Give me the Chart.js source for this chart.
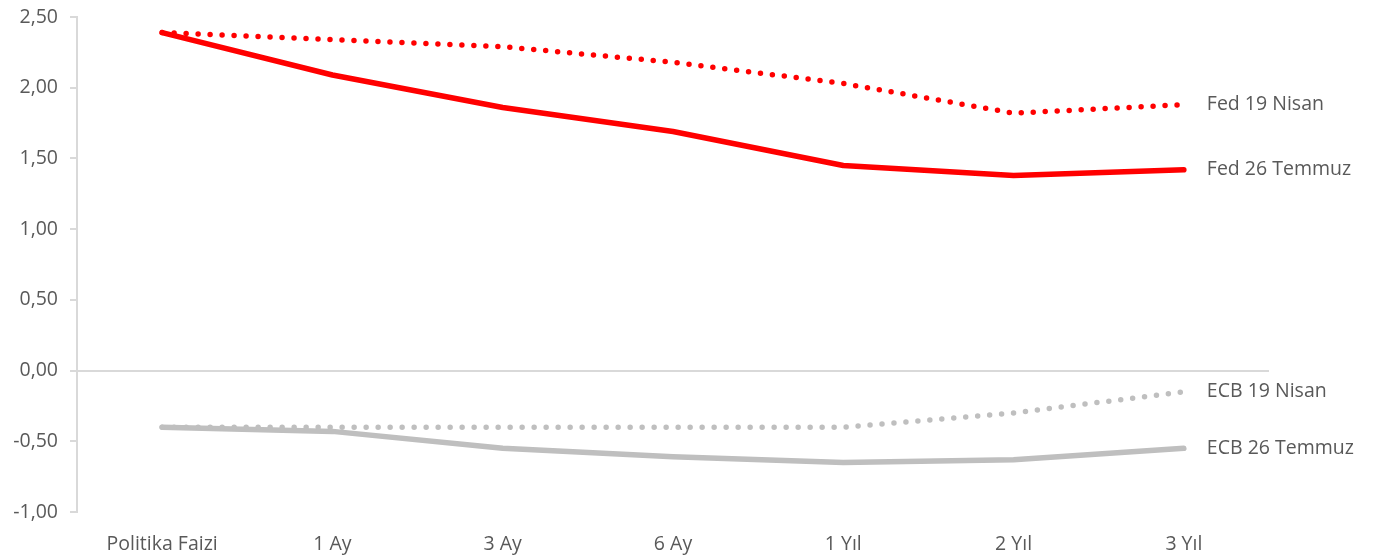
<!DOCTYPE html>
<html>
<head>
<meta charset="utf-8">
<script src="https://cdn.jsdelivr.net/npm/chart.js@4/dist/chart.umd.min.js"></script>
<style>
  html, body { margin: 0; padding: 0; background: #fff; }
  #wrap { width: 1375px; height: 557px; position: relative; }
</style>
</head>
<body>
<div id="wrap"><canvas id="chart"></canvas></div>
<script>
// categories and series
const categories = ["Politika Faizi", "1 Ay", "3 Ay", "6 Ay", "1 Yıl", "2 Yıl", "3 Yıl"];
const fedApril = [2.39, 2.34, 2.29, 2.18, 2.03, 1.82, 1.88];
const fedJuly = [2.39, 2.09, 1.86, 1.69, 1.45, 1.38, 1.42];
const ecbApril = [-0.40, -0.40, -0.40, -0.40, -0.40, -0.30, -0.15];
const ecbJuly = [-0.40, -0.43, -0.55, -0.61, -0.65, -0.63, -0.55];
const seriesNames = ["Fed 19 Nisan", "Fed 26 Temmuz", "ECB 19 Nisan", "ECB 26 Temmuz"];

const red = "#ff0000";
const gray = "#bfbfbf";
const textColor = "#595959";
const axisColor = "#d9d9d9";
const fontFamily = "'Open Sans', 'Noto Sans', sans-serif";
const fontSize = 19.5;

function makeSet(label, data, color, dotted) {
    return {
        label: label,
        data: data,
        borderColor: color,
        backgroundColor: color,
        borderWidth: 5.5,
        borderCapStyle: "round",
        borderJoinStyle: "round",
        borderDash: dotted ? [0, 12] : [],
        pointRadius: 0,
        tension: 0,
        fill: false
    };
}

// names written right of the last point of each line
const endLabels = {
    id: "endLabels",
    afterDatasetsDraw(chart) {
        const ctx = chart.ctx;
        ctx.save();
        ctx.font = fontSize + "px " + fontFamily;
        ctx.fillStyle = textColor;
        ctx.textBaseline = "middle";
        ctx.textAlign = "left";
        chart.data.datasets.forEach((ds, i) => {
            const meta = chart.getDatasetMeta(i);
            const last = meta.data[meta.data.length - 1];
            ctx.fillText(ds.label, last.x + 23, last.y);
        });
        ctx.restore();
    }
};

const ctx = document.getElementById("chart").getContext("2d");
new Chart(ctx, {
    type: "line",
    data: {
        labels: categories,
        datasets: [
            makeSet(seriesNames[2], ecbApril, gray, true),
            makeSet(seriesNames[3], ecbJuly, gray, false),
            makeSet(seriesNames[0], fedApril, red, true),
            makeSet(seriesNames[1], fedJuly, red, false)
        ]
    },
    options: {
        responsive: true,
        maintainAspectRatio: false,
        animation: false,
        layout: { padding: { left: 0, right: 106, top: 17, bottom: 0 } },
        plugins: {
            legend: { display: false },
            tooltip: { enabled: false }
        },
        scales: {
            x: {
                offset: true,
                grid: { display: false, drawTicks: false, offset: true },
                border: { display: false },
                ticks: {
                    color: textColor,
                    font: { size: fontSize, family: fontFamily },
                    padding: 21,
                    maxRotation: 0
                },
                afterFit: scale => { scale.height = 45; }
            },
            y: {
                min: -1,
                max: 2.5,
                ticks: {
                    stepSize: 0.5,
                    color: textColor,
                    font: { size: fontSize, family: fontFamily },
                    padding: 12,
                    callback: v => v.toFixed(2).replace(".", ",")
                },
                grid: {
                    drawOnChartArea: true,
                    color: c => (c.tick && c.tick.value === 0 ? axisColor : "rgba(0,0,0,0)"),
                    tickColor: axisColor,
                    tickLength: 7,
                    lineWidth: 2
                },
                border: { color: axisColor, width: 2 },
                afterFit: scale => {
                    scale.width = 77;
                    scale.paddingTop = 0;
                    scale.paddingBottom = 0;
                }
            }
        }
    },
    plugins: [endLabels]
});
</script>
</body>
</html>
